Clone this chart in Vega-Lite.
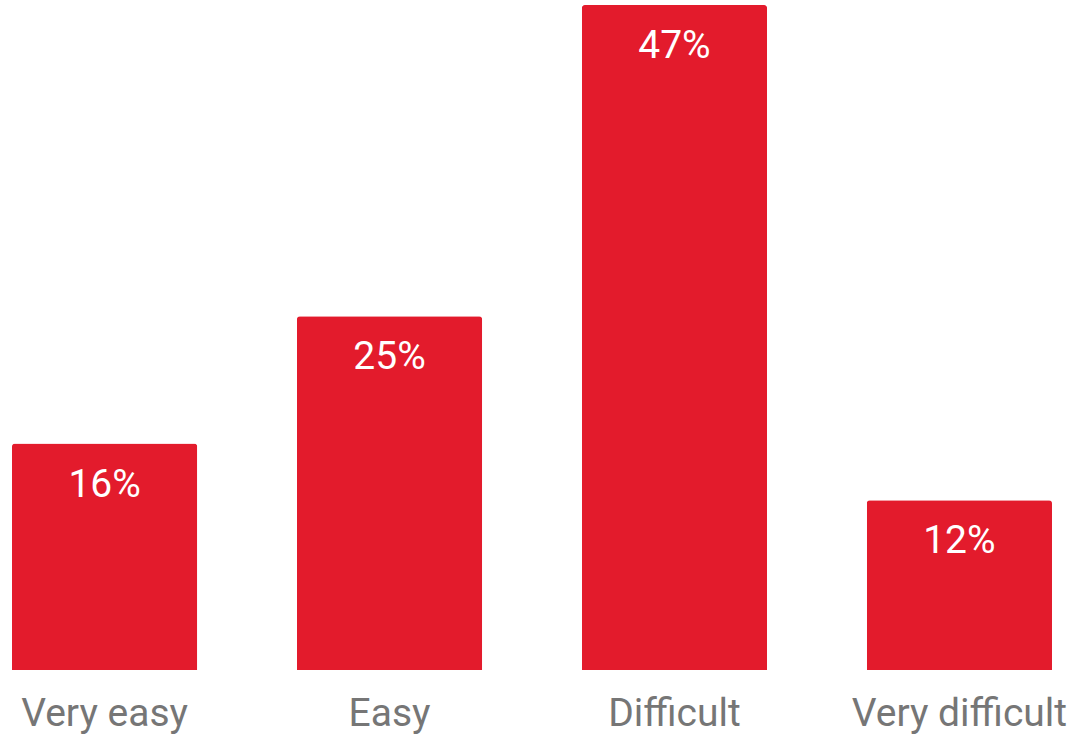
{
  "$schema": "https://vega.github.io/schema/vega-lite/v6.json",
  "autosize": {"type": "none"},
  "padding": {"left": 12, "top": 5, "right": 24, "bottom": 67},
  "width": 1040,
  "height": 665,
  "background": "white",
  "config": {"view": {"stroke": null}, "font": "Roboto"},
  "data": {"values": [
    {"category": "Very easy", "value": 16, "label": "16%"},
    {"category": "Easy", "value": 25, "label": "25%"},
    {"category": "Difficult", "value": 47, "label": "47%"},
    {"category": "Very difficult", "value": 12, "label": "12%"}
  ]},
  "encoding": {
    "x": {"field": "category", "type": "nominal", "sort": null,
      "scale": {"paddingInner": 0.35, "paddingOuter": 0},
      "axis": {"title": null, "domain": false, "ticks": false, "tickSize": 0, "labelPadding": 55, "labelBaseline": "alphabetic", "labelFontSize": 39, "labelColor": "#767676", "labelAngle": 0, "labelFont": "Roboto", "labelLimit": 0, "labelOverlap": false, "labelBound": false, "labelFlush": false}},
    "y": {"field": "value", "type": "quantitative", "scale": {"domain": [0, 47], "nice": false, "zero": true}, "axis": null}
  },
  "layer": [
    {"mark": {"type": "bar", "color": "#e31b2c", "cornerRadiusTopLeft": 3, "cornerRadiusTopRight": 3}},
    {"mark": {"type": "text", "color": "white", "fontSize": 39, "baseline": "alphabetic", "dy": 53, "font": "Roboto"},
      "encoding": {"text": {"field": "label", "type": "nominal"}}}
  ]
}
